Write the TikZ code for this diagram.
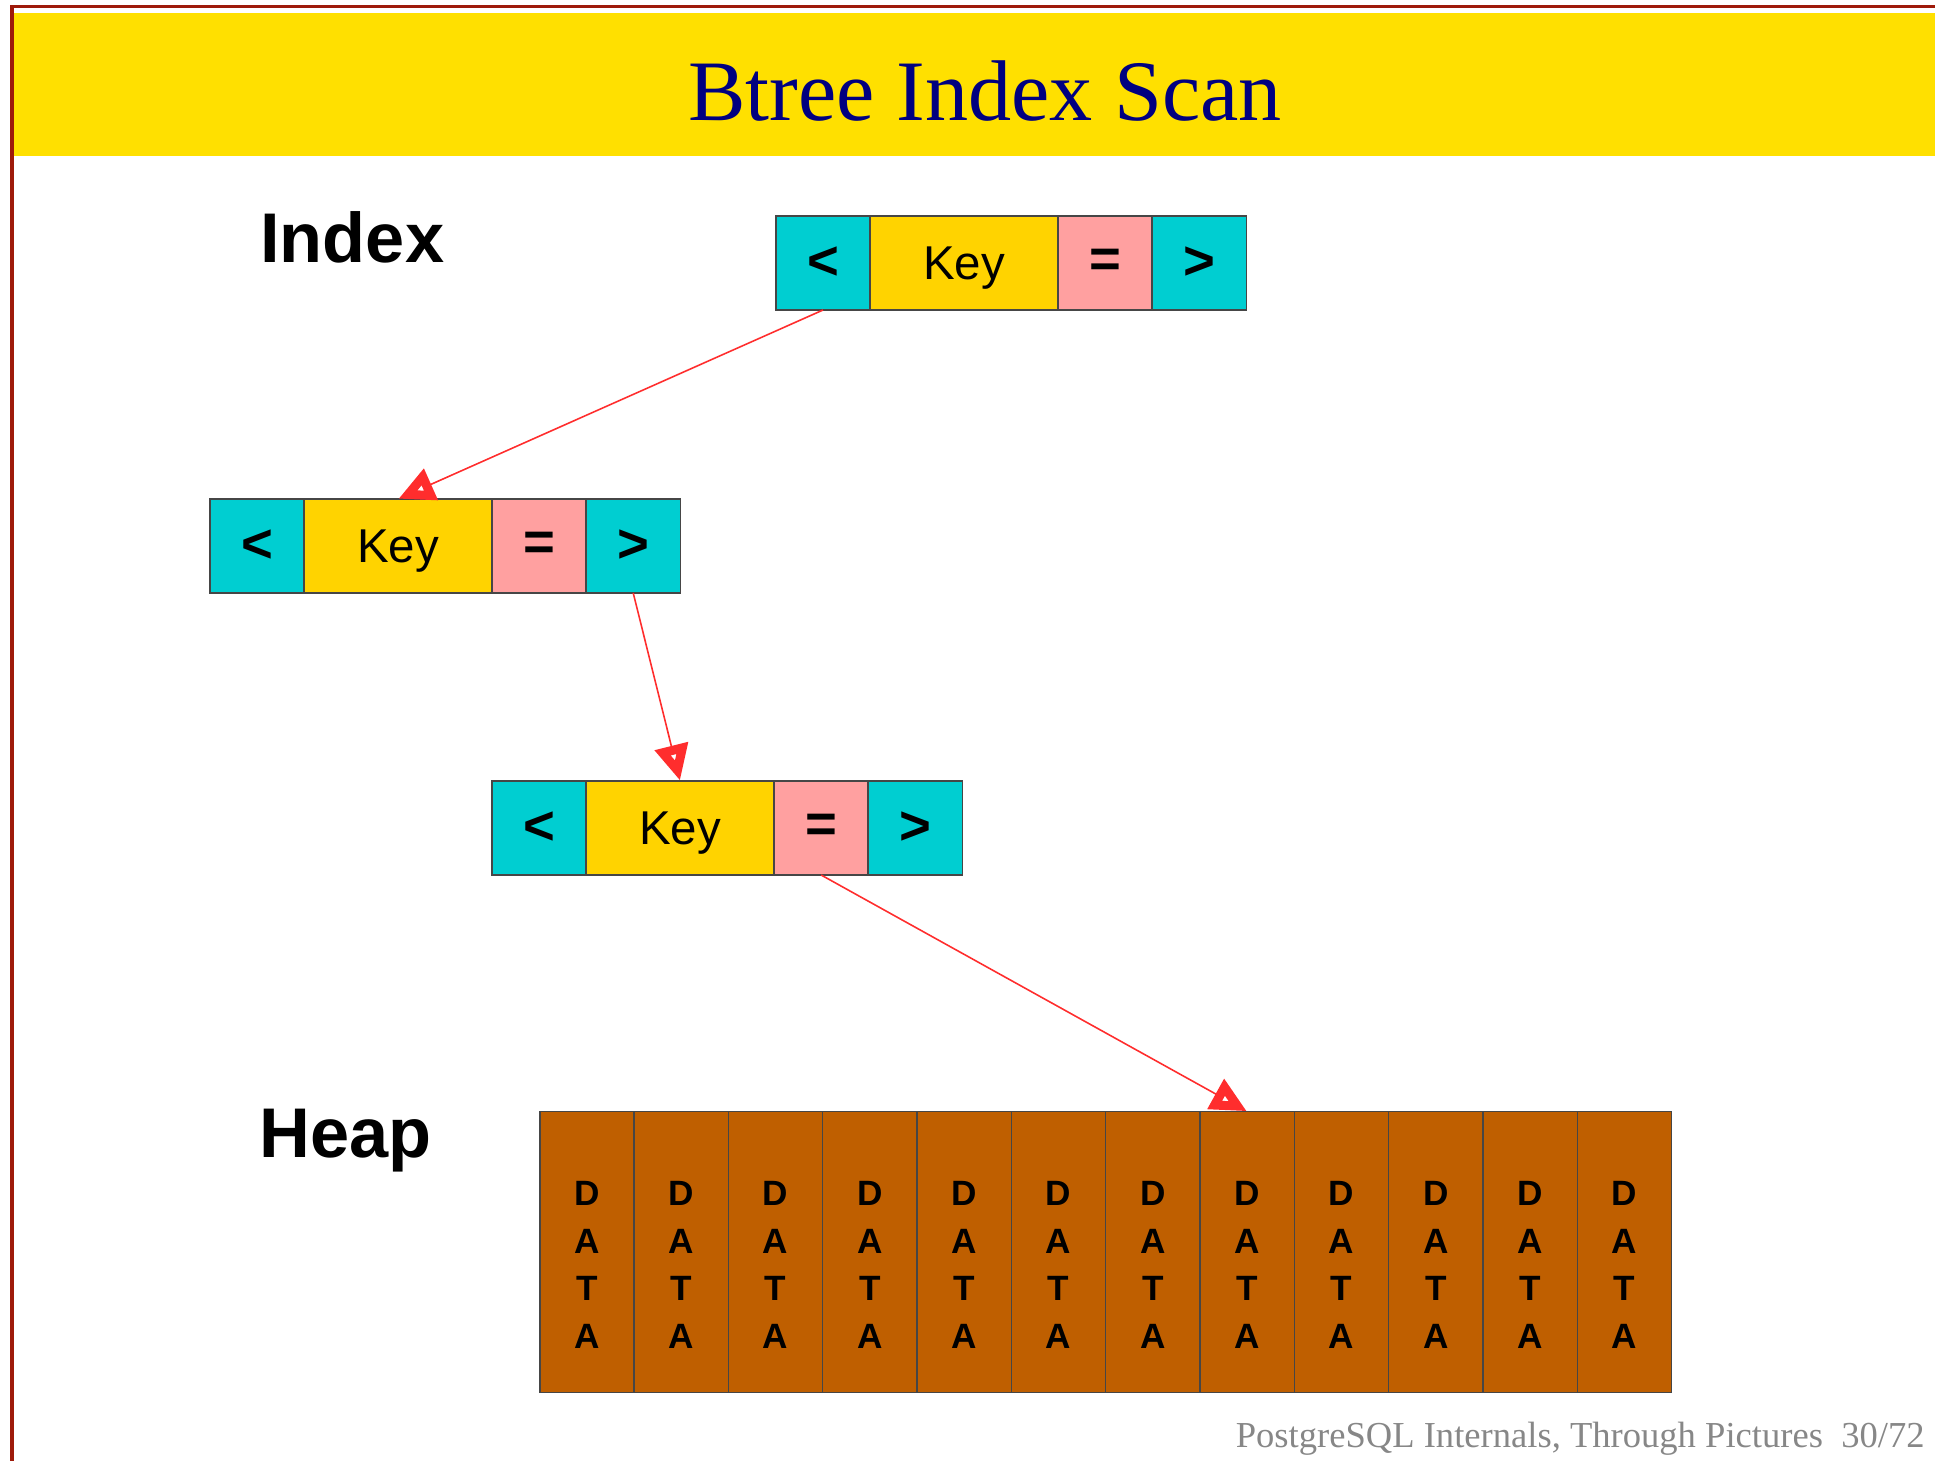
\documentclass[tikz,border=0pt]{standalone}
\usepackage{fontspec}
\setmainfont{Liberation Sans}
\newfontfamily\slidefont{Liberation Serif}
\usetikzlibrary{arrows.meta,positioning}

\definecolor{bandyellow}{RGB}{255,224,0}
\definecolor{framered}{RGB}{158,26,10}
\definecolor{titleblue}{RGB}{0,0,128}
\definecolor{ptrcyan}{RGB}{0,206,209}
\definecolor{keygold}{RGB}{255,211,0}
\definecolor{eqpink}{RGB}{255,160,160}
\definecolor{heapbrown}{RGB}{191,95,0}
\definecolor{cellgray}{RGB}{70,70,70}
\definecolor{linkred}{RGB}{255,45,45}
\definecolor{footgray}{RGB}{135,135,135}

\begin{document}
\begin{tikzpicture}[
    x=0.01cm, y=-0.01cm,
    cell/.style={rectangle, draw=cellgray, line width=0.4pt, inner sep=0pt, outer sep=0pt, minimum width=0.94cm, minimum height=0.94cm},
    ptrcell/.style={cell, fill=ptrcyan, font=\fontsize{15.5}{18}\selectfont\bfseries},
    keycell/.style={cell, fill=keygold, minimum width=1.88cm, text depth=0pt, font=\fontsize{13.5}{16}\selectfont},
    eqcell/.style={cell, fill=eqpink, font=\fontsize{15.5}{18}\selectfont\bfseries},
    tuple/.style={cell, fill=heapbrown, minimum width=0.9425cm, minimum height=2.81cm, label={[datatext]center:{D\\A\\T\\A}}},
    datatext/.style={align=center, yshift=-0.13cm, font=\fontsize{10}{13.5}\selectfont\bfseries},
    ptrarrow/.style={-{Triangle[open, length=0.36cm, width=0.32cm, line width=0.1cm]}, draw=linkred, line width=0.45pt},
    part/.style={anchor=base west, font=\fontsize{20}{24}\selectfont\bfseries}
]
\useasboundingbox (0,0) rectangle (1935,1461);

% Frame and title
\fill[bandyellow] (14,13) rectangle (1935,156);
\draw[framered, line width=0.03cm] (12,1461) -- (12,7) -- (1935,7);
\node[anchor=base, text=titleblue, font=\slidefont\fontsize{24.5}{30}\selectfont] (title) at (985,121) {Btree Index Scan};

% Root page
\node[ptrcell] (rl) at (823,263) {<};
\node[keycell, right=0pt of rl] (rk) {Key};
\node[eqcell, right=0pt of rk] (re) {=};
\node[ptrcell, right=0pt of re] (rg) {>};

% Inner page
\node[ptrcell] (il) at (257,546) {<};
\node[keycell, right=0pt of il] (ik) {Key};
\node[eqcell, right=0pt of ik] (ie) {=};
\node[ptrcell, right=0pt of ie] (ig) {>};

% Leaf page
\node[ptrcell] (ll) at (539,828) {<};
\node[keycell, right=0pt of ll] (lk) {Key};
\node[eqcell, right=0pt of lk] (le) {=};
\node[ptrcell, right=0pt of le] (lg) {>};

% Heap tuples
\node[tuple] (h1) at (587,1252) {};
\node[tuple, right=0pt of h1] (h2) {};
\node[tuple, right=0pt of h2] (h3) {};
\node[tuple, right=0pt of h3] (h4) {};
\node[tuple, right=0pt of h4] (h5) {};
\node[tuple, right=0pt of h5] (h6) {};
\node[tuple, right=0pt of h6] (h7) {};
\node[tuple, right=0pt of h7] (h8) {};
\node[tuple, right=0pt of h8] (h9) {};
\node[tuple, right=0pt of h9] (h10) {};
\node[tuple, right=0pt of h10] (h11) {};
\node[tuple, right=0pt of h11] (h12) {};

% Arrows
\draw[ptrarrow] (rl.south) -- (ik.north);
\draw[ptrarrow] (ig.south) -- (lk.north);
\draw[ptrarrow] (le.south) -- (h8.north);

% Labels
\node[part] (idx) at (248,263) {Index};
\node[part] (hp) at (247,1157) {Heap};

% Footer
\node[anchor=base east, text=footgray, font=\slidefont\fontsize{10.4}{12}\selectfont] (foot) at (1937,1447) {PostgreSQL Internals, Through Pictures\hspace{0.5em}30/72};

\end{tikzpicture}
\end{document}
